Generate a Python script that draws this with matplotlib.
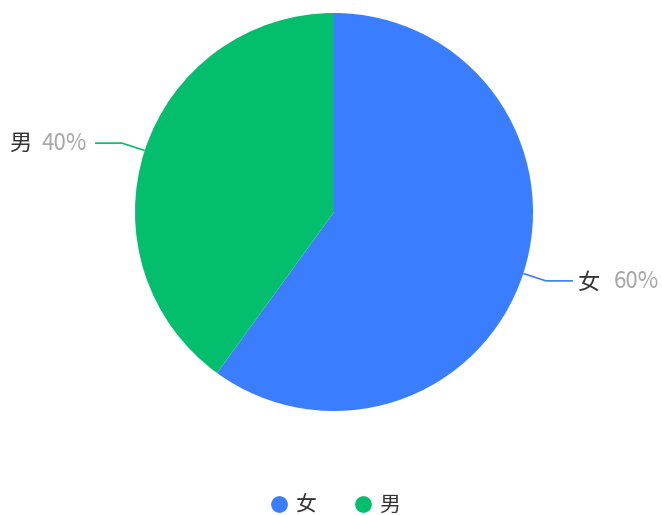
import numpy as np
import matplotlib
matplotlib.use("Agg")
import matplotlib.pyplot as plt
from matplotlib.lines import Line2D
from matplotlib.transforms import offset_copy

plt.rcParams['font.family'] = ['Noto Sans CJK SC', 'DejaVu Sans']

categories = ["女", "男"]
values = [60, 40]
colors = ["#3A7DFF", "#03BE6D"]

W, H = 662, 515
fig = plt.figure(figsize=(W / 100, H / 100), dpi=100)

# pie axes: centre (334, 212) px from top-left, radius 199 px
cx, cy, R = 334, 212, 199
ax = fig.add_axes([(cx - R) / W, (H - cy - R) / H, 2 * R / W, 2 * R / H])

wedges, _ = ax.pie(values, colors=colors, startangle=90, counterclock=False,
                   radius=1.0, wedgeprops=dict(linewidth=0))
ax.set_xlim(-1, 1)
ax.set_ylim(-1, 1)
ax.set_aspect("equal")
ax.axis("off")

FS = 16
px = 1.0 / R  # one pixel in data units
for w, cat, val, col in zip(wedges, categories, values, colors):
    mid = np.deg2rad((w.theta1 + w.theta2) / 2)
    x0, y0 = np.cos(mid), np.sin(mid)
    x1, y1 = 1.12 * np.cos(mid), 1.12 * np.sin(mid)
    side = 1 if x0 > 0 else -1
    x2 = x1 + side * 27 * px
    ax.plot([x0, x1, x2], [y0, y1, y1], color=col, lw=1.2,
            solid_capstyle="butt", clip_on=False)
    if side > 0:
        t1 = offset_copy(ax.transData, fig=fig, x=5, y=-1, units="dots")
        t2 = offset_copy(ax.transData, fig=fig, x=41, y=-1, units="dots")
        ax.text(x2, y1, cat, transform=t1, ha="left", va="center",
                fontsize=FS, color="#333333")
        ax.text(x2, y1, f"{val}%", transform=t2, ha="left", va="center",
                fontsize=FS, color="#A6A6A6")
    else:
        t1 = offset_copy(ax.transData, fig=fig, x=-8, y=0, units="dots")
        t2 = offset_copy(ax.transData, fig=fig, x=-64, y=0, units="dots")
        ax.text(x2, y1, f"{val}%", transform=t1, ha="right", va="center",
                fontsize=FS, color="#A6A6A6")
        ax.text(x2, y1, cat, transform=t2, ha="right", va="center",
                fontsize=FS, color="#333333")

handles = [Line2D([], [], marker="o", linestyle="none", markersize=11,
                  markerfacecolor=c, markeredgecolor=c) for c in colors]
fig.legend(handles, categories, loc="center", bbox_to_anchor=(0.505, 1 - 505 / H),
           ncol=2, frameon=False, fontsize=15, handletextpad=0.25,
           columnspacing=1.8, handlelength=1.0, labelcolor="#333333")

fig.savefig("out.png", dpi=100)
